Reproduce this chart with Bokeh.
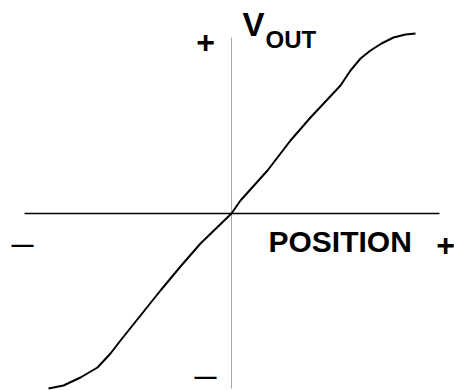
from bokeh.plotting import figure
from bokeh.models import Range1d, Label
from bokeh.embed import file_html
from bokeh.resources import INLINE

# Transfer curve: position vs output voltage (arbitrary units)
position = [-183, -168, -151, -134, -121, -111, -91, -71, -51, -31, 0,
            9, 36, 59, 79, 109, 119, 129, 139, 150, 162, 174, 184]
vout = [-175, -172, -164, -154, -140, -127, -102, -77, -53, -30, 0,
        13, 43, 73, 96, 128, 143, 155, 163, 170, 176, 179, 180]

FONT = "Liberation Sans"

p = figure(width=454, height=390, output_backend="svg", toolbar_location=None,
           x_range=Range1d(-231, 223), y_range=Range1d(-177, 213),
           min_border=0)
p.axis.visible = False
p.grid.visible = False
p.outline_line_color = None
p.background_fill_color = "white"
p.border_fill_color = "white"

# axes drawn as plain lines
p.segment(x0=[-207], y0=[0], x1=[208], y1=[0], line_color="black", line_width=1.6)
p.segment(x0=[0], y0=[176], x1=[0], y1=[-175], line_color="#a8a8a8", line_width=1)

p.line(position, vout, line_color="black", line_width=2)

def lab(x, y, t, size, align="left", baseline="alphabetic"):
    p.add_layout(Label(x=x, y=y, text=t, text_font=FONT, text_font_style="bold",
                       text_font_size=f"{size}px", text_color="black",
                       text_align=align, text_baseline=baseline))

lab(11, 189, "V", 33)
lab(34, 174, "OUT", 24)
lab(-26, 172, "+", 32, align="center")
lab(37, -28, "POSITION", 30)
lab(214, -31, "+", 32, align="center")
lab(-209, -31, "—", 22, align="center")
lab(-26, -163, "—", 22, align="center")

open("out.html", "w").write(file_html(p, INLINE))
